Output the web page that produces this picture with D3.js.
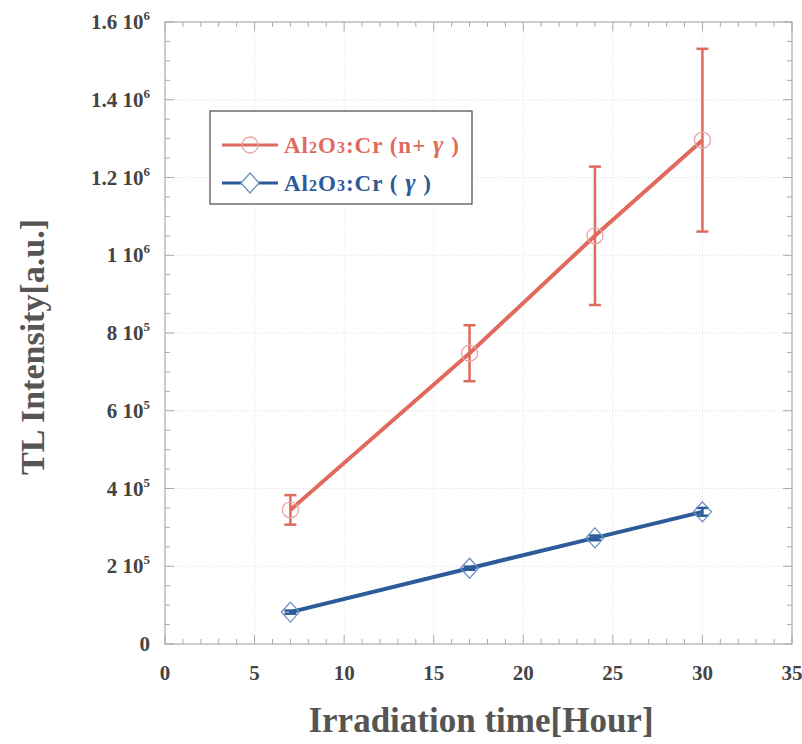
<!DOCTYPE html>
<html><head><meta charset="utf-8">
<script src="https://cdn.jsdelivr.net/npm/d3@7"></script>
<style>body{margin:0;background:#fff}svg{display:block}</style>
</head><body><svg id="c" width="802" height="744"></svg>
<script>
const hours = [7, 17, 24, 30];
const redValues = [345000, 748000, 1050000, 1296000];
const redErrors = [38000, 72000, 178000, 235000];
const blueValues = [82000, 195000, 273000, 340000];
const blueErrors = [4000, 4000, 6000, 10000];
const xTicks = [0, 5, 10, 15, 20, 25, 30, 35];
const yTicks = [0, 200000, 400000, 600000, 800000, 1000000, 1200000, 1400000, 1600000];
const yTickMant = ["0", "2", "4", "6", "8", "1", "1.2", "1.4", "1.6"];
const yTickExp = ["", "5", "5", "5", "5", "6", "6", "6", "6"];

const svg = d3.select("#c");
const L = 165, R = 792, T = 22, B = 644;
const x = d3.scaleLinear().domain([0, 35]).range([L, R]);
const y = d3.scaleLinear().domain([0, 1600000]).range([B, T]);
const red = "#e06a5e", redM = "#eba3a0", blue = "#2b5b98", blueM = "#6c8fc4";
const font = "'Liberation Serif','Times New Roman',serif";
const tc = "#444";

// grid
const g = svg.append("g");
g.selectAll(".gx").data(xTicks.slice(1, -1)).join("line")
  .attr("x1", d => x(d)).attr("x2", d => x(d)).attr("y1", T).attr("y2", B)
  .attr("stroke", "#ddd").attr("stroke-dasharray", "1,2");
g.selectAll(".gy").data(yTicks.slice(1, -1)).join("line")
  .attr("y1", d => y(d)).attr("y2", d => y(d)).attr("x1", L).attr("x2", R)
  .attr("stroke", "#ddd").attr("stroke-dasharray", "1,2");

// axes with inward ticks
const minorX = d3.range(0, 36, 1), minorY = d3.range(0, 1600001, 50000);
const axStroke = "#aaa";
function tickSet(sel, vals, len, axis, side) {
  sel.selectAll(null).data(vals).join("line")
    .attr("stroke", axStroke).attr("stroke-width", 1)
    .each(function (d) {
      const isMajor = axis === "x" ? d % 5 === 0 : d % 200000 === 0;
      const l = isMajor ? len * 1.8 : len;
      const s = d3.select(this);
      if (axis === "x") {
        const yy = side === "b" ? B : T;
        s.attr("x1", x(d)).attr("x2", x(d)).attr("y1", yy).attr("y2", side === "b" ? yy - l : yy + l);
      } else {
        const xx = side === "l" ? L : R;
        s.attr("y1", y(d)).attr("y2", y(d)).attr("x1", xx).attr("x2", side === "l" ? xx + l : xx - l);
      }
    });
}
tickSet(svg.append("g"), minorX, 5, "x", "b");
tickSet(svg.append("g"), minorX, 5, "x", "t");
tickSet(svg.append("g"), minorY, 5, "y", "l");
tickSet(svg.append("g"), minorY, 5, "y", "r");
svg.append("rect").attr("x", L).attr("y", T).attr("width", R - L).attr("height", B - T)
  .attr("fill", "none").attr("stroke", axStroke).attr("stroke-width", 1.2);

// tick labels
svg.append("g").selectAll("text").data(xTicks).join("text")
  .attr("x", d => x(d)).attr("y", 680).attr("text-anchor", "middle")
  .attr("font-family", font).attr("font-weight", "bold").attr("font-size", 21).attr("fill", tc)
  .text(d => d);
const yl = svg.append("g").selectAll("text").data(yTicks).join("text")
  .attr("x", 150).attr("y", d => y(d) + 7).attr("text-anchor", "end")
  .attr("font-family", font).attr("font-weight", "bold").attr("font-size", 21).attr("fill", tc);
yl.each(function (d, i) {
  const t = d3.select(this);
  if (yTickExp[i] === "") { t.text(yTickMant[i]); return; }
  t.append("tspan").text(yTickMant[i] + " 10");
  t.append("tspan").attr("dy", -9).attr("font-size", 13).text(yTickExp[i]);
});

// axis titles
svg.append("text").attr("x", 481).attr("y", 732).attr("text-anchor", "middle")
  .attr("font-family", font).attr("font-weight", "bold").attr("font-size", 35).attr("fill", "#555")
  .text("Irradiation time[Hour]");
svg.append("text").attr("transform", `translate(44,347) rotate(-90)`).attr("text-anchor", "middle")
  .attr("font-family", font).attr("font-weight", "bold").attr("font-size", 34).attr("fill", "#555")
  .text("TL Intensity[a.u.]");

// series
function series(vals, errs, lineC, markC, shape) {
  const data = hours.map((h, i) => ({ h, v: vals[i], e: errs[i] }));
  const gg = svg.append("g");
  gg.append("path").datum(data).attr("fill", "none").attr("stroke", lineC).attr("stroke-width", 4)
    .attr("d", d3.line().x(d => x(d.h)).y(d => y(d.v)));
  const eb = gg.selectAll(".e").data(data).join("g");
  eb.append("line").attr("x1", d => x(d.h)).attr("x2", d => x(d.h))
    .attr("y1", d => y(d.v - d.e)).attr("y2", d => y(d.v + d.e)).attr("stroke", lineC).attr("stroke-width", 2.5);
  [-1, 1].forEach(sg => eb.append("line").attr("x1", d => x(d.h) - 6).attr("x2", d => x(d.h) + 6)
    .attr("y1", d => y(d.v + sg * d.e)).attr("y2", d => y(d.v + sg * d.e)).attr("stroke", lineC).attr("stroke-width", 2.5));
  if (shape === "circle") {
    gg.selectAll(".m").data(data).join("circle").attr("cx", d => x(d.h)).attr("cy", d => y(d.v))
      .attr("r", 8).attr("fill", "none").attr("stroke", markC).attr("stroke-width", 1.3);
  } else {
    gg.selectAll(".m").data(data).join("path")
      .attr("transform", d => `translate(${x(d.h)},${y(d.v)})`)
      .attr("d", "M0,-10L9,0L0,10L-9,0Z").attr("fill", "none").attr("stroke", markC).attr("stroke-width", 1.3);
  }
}
series(redValues, redErrors, red, redM, "circle");
series(blueValues, blueErrors, blue, blueM, "diamond");

// legend
const lg = svg.append("g");
lg.append("rect").attr("x", 210).attr("y", 111).attr("width", 262).attr("height", 93)
  .attr("fill", "#fff").attr("stroke", "#555").attr("stroke-width", 1.3);
const items = [
  { c: red, m: redM, shape: "circle", label: ["Al", "2", "O", "3", ":Cr (n+ ", "γ", " )"] },
  { c: blue, m: blueM, shape: "diamond", label: ["Al", "2", "O", "3", ":Cr ( ", "γ", " )"] }
];
items.forEach((it, i) => {
  const yy = 145 + i * 38;
  lg.append("line").attr("x1", 222).attr("x2", 278).attr("y1", yy).attr("y2", yy).attr("stroke", it.c).attr("stroke-width", 3);
  if (it.shape === "circle") lg.append("circle").attr("cx", 250).attr("cy", yy).attr("r", 8).attr("fill", "none").attr("stroke", it.m).attr("stroke-width", 1.3);
  else lg.append("path").attr("transform", `translate(250,${yy})`).attr("d", "M0,-10L9,0L0,10L-9,0Z").attr("fill", "#fff").attr("stroke", it.m).attr("stroke-width", 1.3);
  const t = lg.append("text").attr("x", 284).attr("y", yy + 8).attr("font-family", font).attr("font-weight", "bold")
    .attr("font-size", 23).attr("letter-spacing", 1).attr("fill", it.c);
  it.label.forEach((s, k) => {
    const sp = t.append("tspan").text(s);
    if (k === 1 || k === 3) sp.attr("font-size", 16);
    if (k === 5) sp.attr("font-style", "italic").attr("font-size", 25);
  });
});
</script></body></html>
